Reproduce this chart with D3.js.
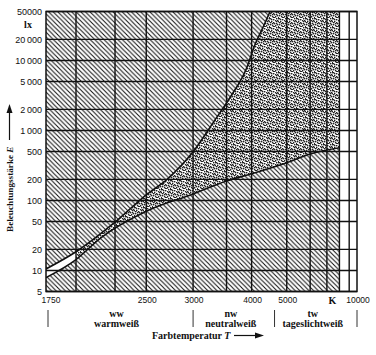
<!DOCTYPE html>
<html><head><meta charset="utf-8">
<script src="https://cdn.jsdelivr.net/npm/d3@7"></script>
<style>body{margin:0;background:#fff}</style>
</head><body><svg id="c" width="376" height="355"></svg>
<script>
// ---- data ----
const tempTicks = [1750, 2500, 3000, 4000, 5000, 10000];
const tempTickLabels = ["1750", "2500", "3000", "4000", "5000", "10000"];
const tempGrid = [2000, 2250, 2500, 3000, 3500, 4000, 5000, 6000, 7000, 8000, 9000];
const luxTicks = [5, 10, 20, 50, 100, 200, 500, 1000, 2000, 5000, 10000, 20000, 50000];
const luxTickLabels = ["5", "10", "20", "50", "100", "200", "500", "1\u2009000", "2\u2009000", "5\u2009000", "10\u2009000", "20\u2009000", "50000"];
const upperT = [1750, 2000, 2250, 2500, 2700, 3000, 3300, 3560, 3890, 4080, 4290, 4470];
const upperE = [10.5, 18.5, 49, 120, 200, 495, 1370, 2930, 7800, 16900, 30800, 50000];
const lowerT = [1750, 2000, 2150, 2500, 3000, 3500, 4000, 5000, 6000, 8000];
const lowerE = [7.9, 14.3, 29, 70, 124, 190, 240, 345, 460, 565];
const groupCodes = ["ww", "nw", "tw"];
const groupNames = ["warmweiß", "neutralweiß", "tageslichtweiß"];
const groupBounds = [1750, 3000, 4600, 10000];
const unitT = 7400;           // position of the "K" unit label
const fieldStartT = 2000;     // stippled comfort field starts
const fieldEndT = 8000;       // hatched / stippled field ends

// ---- layout ----
const L = 46, R = 357, T0 = 11.5, B = 291.5;
const svg = d3.select("#c");
const ink = "#111";

// x: reciprocal colour temperature (mired), compressed below 2000 K
const xm = d3.scaleLinear().domain([1e6 / 1750, 1e6 / 2000, 1e6 / 10000]).range([L, 76, R]);
const X = t => xm(1e6 / t);
const Y = d3.scaleLog().domain([5, 50000]).range([B, T0]);

const upper = upperT.map((t, i) => ({ t, e: upperE[i] }));
const lower = lowerT.map((t, i) => ({ t, e: lowerE[i] }));

const defs = svg.append("defs");
const hs = 4.6;
const hatch = defs.append("pattern").attr("id", "hatch").attr("patternUnits", "userSpaceOnUse")
  .attr("width", hs).attr("height", hs);
hatch.append("rect").attr("width", hs).attr("height", hs).attr("fill", "#fff");
hatch.append("path").attr("d", `M-1,-1L${hs+1},${hs+1}M-1,${hs-1}L1,${hs+1}M${hs-1},-1L${hs+1},1`)
  .attr("stroke", ink).attr("stroke-width", 1.05);

const dots = defs.append("pattern").attr("id", "dots").attr("patternUnits", "userSpaceOnUse")
  .attr("width", 9).attr("height", 9);
dots.append("rect").attr("width", 9).attr("height", 9).attr("fill", "#fff");
const dotXY = [[0,0],[3,1],[6,0],[1,3],[5,2],[8,3],[3,4],[6,5],[0,6],[2,7],[5,7],[8,8],[4,8],[7,6],[1,1],[7,2],[4,5],[2,5],[8,0],[0,4],[6,3],[3,8]];
dots.selectAll("rect.d").data(dotXY).join("rect").attr("class", "d")
  .attr("x", d => d[0]).attr("y", d => d[1]).attr("width", 1.4).attr("height", 1.4).attr("fill", "#222");

defs.append("clipPath").attr("id", "plot").append("rect")
  .attr("x", L).attr("y", T0).attr("width", R - L).attr("height", B - T0);

const g = svg.append("g").attr("clip-path", "url(#plot)");

// stippled field
g.append("rect").attr("x", X(fieldStartT)).attr("y", T0)
  .attr("width", X(fieldEndT) - X(fieldStartT)).attr("height", B - T0)
  .attr("fill", "url(#dots)");

// hatched region above the upper curve
const areaUp = d3.area().x(d => X(d.t)).y0(T0).y1(d => Y(d.e)).curve(d3.curveMonotoneX);
g.append("path").datum(upper).attr("d", areaUp).attr("fill", "url(#hatch)");
// hatched region below the lower curve
const areaLo = d3.area().x(d => X(d.t)).y0(B).y1(d => Y(d.e)).curve(d3.curveMonotoneX);
g.append("path").datum(lower).attr("d", areaLo).attr("fill", "url(#hatch)");

// boundary curves
const line = d3.line().x(d => X(d.t)).y(d => Y(d.e)).curve(d3.curveMonotoneX);
[upper, lower].forEach(c => g.append("path").datum(c).attr("d", line)
  .attr("fill", "none").attr("stroke", ink).attr("stroke-width", 1.6));

// grid
svg.append("g").selectAll("line").data(tempGrid).join("line")
  .attr("x1", d => X(d)).attr("x2", d => X(d)).attr("y1", T0).attr("y2", B)
  .attr("stroke", ink).attr("stroke-width", 1.4);
svg.append("g").selectAll("line").data(luxTicks).join("line")
  .attr("x1", L).attr("x2", R).attr("y1", d => Y(d)).attr("y2", d => Y(d))
  .attr("stroke", ink).attr("stroke-width", 1.4);
svg.append("rect").attr("x", L).attr("y", T0).attr("width", R - L).attr("height", B - T0)
  .attr("fill", "none").attr("stroke", ink).attr("stroke-width", 1.5);

// y tick labels
const sans = "'Liberation Sans', Arial, sans-serif";
const serif = "'Liberation Serif', 'Times New Roman', serif";
svg.append("g").selectAll("text").data(luxTicks).join("text")
  .attr("x", 42).attr("y", d => Y(d)).attr("dy", "0.35em").attr("text-anchor", "end")
  .attr("font-family", sans).attr("font-size", 9).attr("fill", ink)
  .text((d, i) => luxTickLabels[i]);
svg.append("text").attr("x", 28).attr("y", 28).attr("text-anchor", "middle")
  .attr("font-family", serif).attr("font-weight", "bold").attr("font-size", 10).attr("fill", ink).text("lx");

// x tick labels
svg.append("g").selectAll("text").data(tempTicks).join("text")
  .attr("x", (d, i) => X(d) + (i === 0 ? 5 : 1)).attr("y", 303).attr("text-anchor", "middle")
  .attr("font-family", sans).attr("font-size", 8.5).attr("fill", ink)
  .text((d, i) => tempTickLabels[i]);
svg.append("text").attr("x", X(unitT)).attr("y", 303.5).attr("text-anchor", "middle")
  .attr("font-family", serif).attr("font-weight", "bold").attr("font-size", 10).attr("fill", ink).text("K");

// group markers and names
svg.append("g").selectAll("line").data(groupBounds).join("line")
  .attr("x1", (d, i) => X(d) + (i === 0 ? 2 : 0)).attr("x2", (d, i) => X(d) + (i === 0 ? 2 : 0))
  .attr("y1", 310).attr("y2", 327).attr("stroke", "#333").attr("stroke-width", 1);
const gl = svg.append("g").selectAll("text").data(groupCodes).join("text")
  .attr("text-anchor", "middle").attr("font-family", serif).attr("font-weight", "bold")
  .attr("font-size", 10).attr("fill", ink);
gl.append("tspan").attr("x", (d, i) => (X(groupBounds[i]) + X(groupBounds[i + 1])) / 2 - 3).attr("y", 316.5).text(d => d);
gl.append("tspan").attr("x", (d, i) => (X(groupBounds[i]) + X(groupBounds[i + 1])) / 2 - 3).attr("y", 326.5).text((d, i) => groupNames[i]);

// x title
const xt = svg.append("text").attr("x", 152).attr("y", 339).attr("font-family", serif)
  .attr("font-weight", "bold").attr("font-size", 10).attr("fill", ink);
xt.append("tspan").text("Farbtemperatur ");
xt.append("tspan").attr("font-style", "italic").text("T");
svg.append("line").attr("x1", 234).attr("x2", 257).attr("y1", 335.5).attr("y2", 335.5).attr("stroke", ink).attr("stroke-width", 1.2);
svg.append("path").attr("d", "M264,335.5L255,332.5L255,338.5Z").attr("fill", ink);

// y title
const yt = svg.append("text").attr("transform", "translate(13,232) rotate(-90)")
  .attr("font-family", serif).attr("font-weight", "bold").attr("font-size", 9.2).attr("fill", ink);
yt.append("tspan").text("Beleuchtungsstärke ");
yt.append("tspan").attr("font-style", "italic").text("E");
svg.append("line").attr("x1", 9.5).attr("x2", 9.5).attr("y1", 140).attr("y2", 112).attr("stroke", ink).attr("stroke-width", 1.2);
svg.append("path").attr("d", "M9.5,104L6.5,113L12.5,113Z").attr("fill", ink);
</script></body></html>
